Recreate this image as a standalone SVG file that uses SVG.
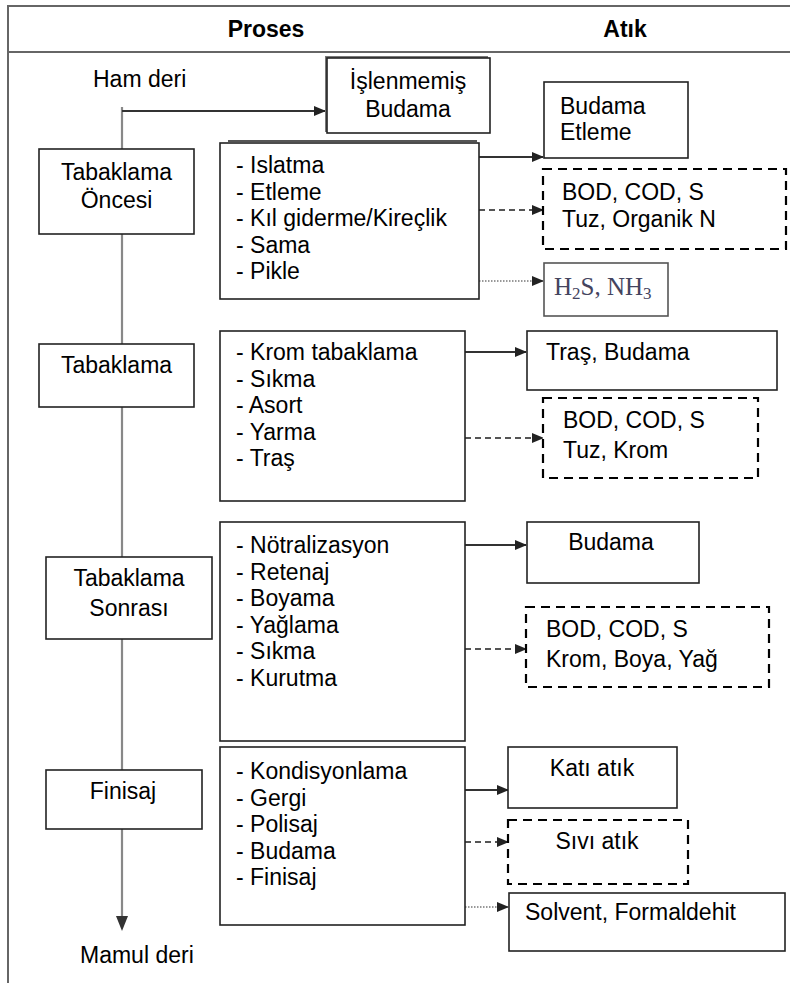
<svg xmlns="http://www.w3.org/2000/svg" width="790" height="983" viewBox="0 0 790 983">
<style>
text{font-family:"Liberation Sans",Arial,sans-serif;font-size:23px;fill:#000}
.hdr{font-weight:bold}
.c{text-anchor:middle}
.box{fill:#fff;stroke:#222;stroke-width:1.6}
.dbox{fill:#fff;stroke:#000;stroke-width:2.2;stroke-dasharray:9,6}
.frame{stroke:#666;stroke-width:2;fill:none}
.solid{stroke:#333;stroke-width:2;fill:none}
.dash{stroke:#555;stroke-width:2;stroke-dasharray:6,4;fill:none}
.dot{stroke:#777;stroke-width:1.6;stroke-dasharray:1.5,1.5;fill:none}
.main{stroke:#888;stroke-width:2.2;fill:none}
.serif{font-family:"Liberation Serif","Times New Roman",serif;font-size:25px;fill:#44445e}
</style>
<defs>
<marker id="ah" markerWidth="12" markerHeight="10" refX="11" refY="5" orient="auto" markerUnits="userSpaceOnUse">
<path d="M0,0 L12,5 L0,10 Z" fill="#222"/>
</marker>
</defs>
<rect width="790" height="983" fill="#fff"/>
<g id="frame">
<path class="frame" d="M8,983 V6 H790 M8,52 H790"/>
<text class="hdr c" x="266" y="37">Proses</text>
<text class="hdr c" x="625" y="37">Atık</text>
</g>
<g id="connectors">
<path class="main" d="M122,107 V918"/>
<path d="M116,916 L122,931 L128,916 Z" fill="#333"/>
<path class="solid" d="M122,111 H325" marker-end="url(#ah)"/>
<path class="solid" d="M479,157 H543" marker-end="url(#ah)"/>
<path class="dash" d="M479,210 H543" marker-end="url(#ah)"/>
<path class="dot" d="M479,281 H543" marker-end="url(#ah)"/>
<path class="solid" d="M465,352 H526" marker-end="url(#ah)"/>
<path class="dash" d="M465,438 H543" marker-end="url(#ah)"/>
<path class="solid" d="M465,545 H526" marker-end="url(#ah)"/>
<path class="dash" d="M465,649 H526" marker-end="url(#ah)"/>
<path class="solid" d="M465,790 H508" marker-end="url(#ah)"/>
<path class="dash" d="M465,842 H508" marker-end="url(#ah)"/>
<path class="dot" d="M465,907 H508" marker-end="url(#ah)"/>
</g>
<g id="ham-deri"><text x="93" y="87">Ham deri</text></g>
<g id="mamul-deri"><text x="80" y="963">Mamul deri</text></g>
<g id="islenmemis">
<rect x="325" y="56" width="163" height="76" fill="#777"/>
<rect class="box" x="327" y="58" width="163" height="75"/>
<text class="c" x="408" y="89">İşlenmemiş</text>
<text class="c" x="408" y="117">Budama</text>
</g>
<g id="tab-oncesi">
<rect class="box" x="39" y="149" width="155" height="85"/>
<text class="c" x="116.5" y="180">Tabaklama</text>
<text class="c" x="116.5" y="208">Öncesi</text>
</g>
<g id="proc1">
<path d="M228,141 H477" stroke="#555" stroke-width="2"/>
<rect class="box" x="220" y="143" width="259" height="156"/>
<text x="236" y="173">- Islatma</text>
<text x="236" y="199.5">- Etleme</text>
<text x="236" y="226">- Kıl giderme/Kireçlik</text>
<text x="236" y="252.5">- Sama</text>
<text x="236" y="279">- Pikle</text>
</g>
<g id="budama-etleme">
<rect class="box" x="544" y="82" width="144" height="76"/>
<text x="560" y="114">Budama</text>
<text x="560" y="140">Etleme</text>
</g>
<g id="w1-liquid">
<rect class="dbox" x="543" y="169" width="243" height="80"/>
<text x="562" y="200">BOD, COD, S</text>
<text x="562" y="227">Tuz, Organik N</text>
</g>
<g id="w1-gas">
<rect class="box" x="544" y="263" width="124" height="53" style="stroke:#555"/>
<text class="serif" x="554" y="295">H<tspan font-size="17" dy="4">2</tspan><tspan dy="-4">S, NH</tspan><tspan font-size="17" dy="4">3</tspan></text>
</g>
<g id="tabaklama">
<rect class="box" x="39" y="344" width="155" height="63"/>
<text class="c" x="116.5" y="373">Tabaklama</text>
</g>
<g id="proc2">
<rect class="box" x="220" y="331" width="245" height="170"/>
<text x="236" y="360">- Krom tabaklama</text>
<text x="236" y="386.5">- Sıkma</text>
<text x="236" y="413">- Asort</text>
<text x="236" y="439.5">- Yarma</text>
<text x="236" y="466">- Traş</text>
</g>
<g id="tras-budama">
<rect class="box" x="527" y="331" width="250" height="59"/>
<text x="546" y="360">Traş, Budama</text>
</g>
<g id="w2-liquid">
<rect class="dbox" x="543" y="398" width="215" height="80"/>
<text x="563" y="428">BOD, COD, S</text>
<text x="563" y="458">Tuz, Krom</text>
</g>
<g id="tab-sonrasi">
<rect class="box" x="46" y="557" width="166" height="82"/>
<text class="c" x="129" y="586">Tabaklama</text>
<text class="c" x="129" y="616">Sonrası</text>
</g>
<g id="proc3">
<rect class="box" x="220" y="522" width="245" height="219"/>
<text x="236" y="553">- Nötralizasyon</text>
<text x="236" y="579.5">- Retenaj</text>
<text x="236" y="606">- Boyama</text>
<text x="236" y="632.5">- Yağlama</text>
<text x="236" y="659">- Sıkma</text>
<text x="236" y="685.5">- Kurutma</text>
</g>
<g id="budama3">
<rect class="box" x="527" y="522" width="172" height="61"/>
<text class="c" x="611" y="550">Budama</text>
</g>
<g id="w3-liquid">
<rect class="dbox" x="526" y="607" width="243" height="80"/>
<text x="546" y="637">BOD, COD, S</text>
<text x="546" y="667">Krom, Boya, Yağ</text>
</g>
<g id="finisaj">
<rect class="box" x="46" y="770" width="156" height="59"/>
<text class="c" x="123" y="799">Finisaj</text>
</g>
<g id="proc4">
<rect class="box" x="220" y="747" width="245" height="178"/>
<text x="236" y="779">- Kondisyonlama</text>
<text x="236" y="805.5">- Gergi</text>
<text x="236" y="832">- Polisaj</text>
<text x="236" y="858.5">- Budama</text>
<text x="236" y="885">- Finisaj</text>
</g>
<g id="kati-atik">
<rect class="box" x="508" y="747" width="169" height="61"/>
<text class="c" x="592" y="776">Katı atık</text>
</g>
<g id="sivi-atik">
<rect class="dbox" x="508" y="820" width="180" height="64"/>
<text class="c" x="597" y="849">Sıvı atık</text>
</g>
<g id="solvent">
<rect class="box" x="509" y="893" width="276" height="58"/>
<text x="525" y="920">Solvent, Formaldehit</text>
</g>
</svg>
